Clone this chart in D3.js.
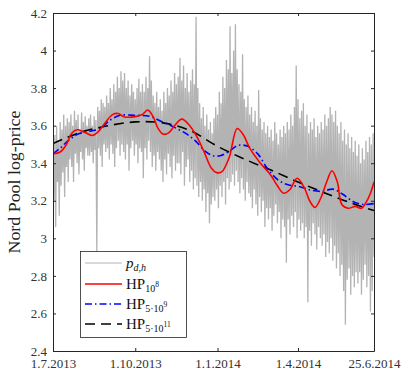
<!DOCTYPE html>
<html>
<head>
<meta charset="utf-8">
<script src="https://cdn.jsdelivr.net/npm/d3@7"></script>
<style>
body { margin: 0; background: #fff; }
svg { font-family: "Liberation Serif", serif; }
</style>
</head>
<body>
<script>
var width = 402,
    height = 370;

// 2-day blocks: upper and lower edge of the hourly prices
var priceHi = [
  3.58, 3.55, 3.60, 3.52, 3.62, 3.58, 3.66, 3.60, 3.64, 3.62,
  3.66, 3.60, 3.68, 3.63, 3.66, 3.58, 3.67, 3.62, 3.65, 3.60,
  3.64, 3.66, 3.60, 3.65, 3.63, 3.70, 3.68, 3.74, 3.72, 3.70,
  3.76, 3.72, 3.80, 3.74, 3.82, 3.78, 3.86, 3.80, 3.89, 3.84,
  3.88, 3.80, 3.84, 3.76, 3.82, 3.78, 3.74, 3.80, 3.85, 3.78,
  3.82, 3.78, 3.86, 3.80, 3.97, 3.84, 3.76, 3.72, 3.78, 3.70,
  3.74, 3.68, 3.78, 3.72, 3.80, 3.76, 3.84, 3.78, 3.88, 3.82,
  3.86, 3.96, 3.84, 3.92, 3.80, 3.88, 3.78, 3.84, 3.90, 3.82,
  4.18, 3.80, 3.72, 3.64, 3.70, 3.60, 3.66, 3.58, 3.62, 3.56,
  3.64, 3.70, 3.66, 3.78, 3.72, 3.86, 3.80, 3.95, 3.90, 4.13,
  3.88, 4.00, 4.14, 3.90, 3.82, 3.78, 3.98, 3.74, 3.70, 3.76,
  3.66, 3.70, 3.62, 3.68, 3.60, 3.79, 3.64, 3.58, 3.62, 3.56,
  3.60, 3.54, 3.58, 3.52, 3.62, 3.56, 3.50, 3.58, 3.54, 3.60,
  3.56, 3.62, 3.58, 3.66, 3.60, 3.70, 3.92, 3.74, 3.64, 3.68,
  3.72, 3.60, 3.66, 3.56, 3.62, 3.58, 3.64, 3.54, 3.60, 3.56,
  3.62, 3.58, 3.66, 3.60, 3.64, 3.70, 3.66, 3.62, 3.68, 3.60,
  3.56, 3.62, 3.52, 3.58, 3.50, 3.56, 3.48, 3.54, 3.46, 3.52,
  3.44, 3.50, 3.40, 3.48, 3.42, 3.52, 3.46, 3.54, 3.50, 3.56
];
var priceLo = [
  3.20, 3.06, 3.30, 3.12, 3.28, 3.35, 3.22, 3.38, 3.30, 3.42,
  3.38, 3.30, 3.45, 3.40, 3.34, 3.46, 3.42, 3.36, 3.48, 3.44,
  3.44, 3.46, 3.40, 3.47, 2.93, 3.48, 3.44, 3.38, 3.50, 3.46,
  3.48, 3.42, 3.50, 3.45, 3.38, 3.48, 3.52, 3.44, 3.50, 3.46,
  3.42, 3.50, 3.36, 3.48, 3.52, 3.44, 3.50, 3.40, 3.48, 3.46,
  3.32, 3.48, 3.42, 3.52, 3.46, 3.38, 3.44, 3.36, 3.46, 3.42,
  3.36, 3.30, 3.42, 3.34, 3.45, 3.38, 3.32, 3.44, 3.36, 3.40,
  3.40, 3.34, 3.46, 3.28, 3.38, 3.42, 3.30, 3.36, 3.26, 3.32,
  3.28, 3.22, 3.30, 3.20, 3.26, 3.14, 3.24, 3.08, 3.18, 3.22,
  3.20, 3.26, 3.16, 3.28, 3.22, 3.30, 3.18, 3.32, 3.26, 3.30,
  3.34, 3.28, 3.36, 3.30, 3.24, 3.32, 3.26, 3.20, 3.30, 3.24,
  3.22, 3.16, 3.26, 3.18, 3.12, 3.22, 3.14, 3.20, 3.06, 3.16,
  3.10, 3.16, 3.04, 3.12, 3.18, 3.08, 3.14, 3.00, 3.10, 3.06,
  2.87, 3.10, 3.02, 3.12, 3.06, 3.14, 3.00, 3.10, 3.04, 3.08,
  3.00, 3.06, 2.66, 3.04, 2.96, 3.08, 3.02, 2.94, 3.06, 3.00,
  2.96, 3.02, 2.90, 2.98, 2.92, 3.00, 2.88, 2.96, 2.84, 2.92,
  2.80, 2.86, 2.72, 2.54, 2.78, 2.84, 2.70, 2.80, 2.74, 2.82,
  2.76, 2.82, 2.70, 2.78, 2.86, 2.74, 2.80, 2.61, 2.72, 2.90
];

// HP trends, day = days since 1.7.2013
var hp8Day = [0, 8, 15, 21, 27, 34, 44, 51, 59, 67, 73, 79, 92, 100, 106, 112, 117, 123, 129, 136,
  144, 153, 161, 169, 177, 183, 189, 197, 206, 213, 220, 232, 243, 251, 258, 265, 273, 281, 287, 293,
  300, 306, 312, 318, 323, 330, 338, 345, 350, 355, 359];
var hp8 = [3.45, 3.46, 3.50, 3.56, 3.578, 3.568, 3.548, 3.57, 3.62, 3.66, 3.665, 3.648, 3.648, 3.66, 3.683, 3.648, 3.59, 3.555, 3.56, 3.60,
  3.635, 3.60, 3.54, 3.46, 3.375, 3.35, 3.355, 3.43, 3.585, 3.55, 3.48, 3.40, 3.34, 3.28, 3.24, 3.26, 3.32, 3.27, 3.20, 3.165,
  3.22, 3.30, 3.36, 3.30, 3.18, 3.16, 3.17, 3.16, 3.19, 3.24, 3.30];

var hp9Day = [0, 8, 17, 28, 41, 53, 64, 75, 92, 108, 120, 134, 148, 159, 170, 179, 187, 196, 207, 218,
  229, 240, 252, 263, 276, 290, 301, 313, 324, 336, 347, 359];
var hp9 = [3.45, 3.48, 3.52, 3.555, 3.57, 3.585, 3.63, 3.655, 3.655, 3.65, 3.625, 3.595, 3.56, 3.52, 3.465, 3.44, 3.44, 3.46, 3.495, 3.49,
  3.45, 3.37, 3.31, 3.285, 3.275, 3.255, 3.25, 3.262, 3.235, 3.195, 3.18, 3.185];

var hp11Day = [0, 31, 62, 92, 123, 153, 184, 215, 243, 274, 304, 335, 359];
var hp11 = [3.505, 3.565, 3.60, 3.62, 3.615, 3.575, 3.49, 3.42, 3.365, 3.30, 3.242, 3.185, 3.148];

var xTickLabels = ["1.7.2013", "1.10.2013", "1.1.2014", "1.4.2014", "25.6.2014"];
var yTicks = [2.4, 2.6, 2.8, 3, 3.2, 3.4, 3.6, 3.8, 4, 4.2];

var startDate = new Date(2013, 6, 1),
    endDate = new Date(2014, 5, 25);
var parseTick = d3.timeParse("%d.%m.%Y");
var dayToDate = function(d) { return d3.timeDay.offset(startDate, d); };

var plotL = 53, plotR = 374, plotT = 13, plotB = 351;
var serif = "Liberation Serif";

var x = d3.scaleTime().domain([startDate, endDate]).range([plotL, plotR]);
var y = d3.scaleLinear().domain([2.4, 4.2]).range([plotB, plotT]);

var svg = d3.select("body").append("svg")
    .attr("width", width)
    .attr("height", height);

svg.append("defs").append("clipPath").attr("id", "plotclip")
  .append("rect").attr("x", plotL).attr("y", plotT).attr("width", plotR - plotL).attr("height", plotB - plotT);

var plot = svg.append("g").attr("clip-path", "url(#plotclip)");

// hourly price band as one zigzag line
var pricePts = [];
priceHi.forEach(function(v, i) {
    pricePts.push([2 * i, v]);
    pricePts.push([2 * i + 1, priceLo[i]]);
});

var line = d3.line()
    .x(function(d) { return x(dayToDate(d[0])); })
    .y(function(d) { return y(d[1]); });

plot.append("path")
    .datum(pricePts)
    .attr("fill", "none")
    .attr("stroke", "#b3b3b3")
    .attr("stroke-width", 1.3)
    .attr("stroke-linejoin", "bevel")
    .attr("d", line);

var smooth = d3.line()
    .curve(d3.curveCatmullRom.alpha(0.5))
    .x(function(d) { return x(dayToDate(d[0])); })
    .y(function(d) { return y(d[1]); });

var trends = [
    {days: hp11Day, vals: hp11, color: "#000", dash: "10,6", w: 1.6},
    {days: hp9Day, vals: hp9, color: "#0000ff", dash: "7,3,1.5,3", w: 1.6},
    {days: hp8Day, vals: hp8, color: "#ff0000", dash: null, w: 1.6}
];
trends.forEach(function(t) {
    plot.append("path")
        .datum(t.days.map(function(d, i) { return [d, t.vals[i]]; }))
        .attr("fill", "none")
        .attr("stroke", t.color)
        .attr("stroke-width", t.w)
        .attr("stroke-dasharray", t.dash)
        .attr("d", smooth);
});

// axes, ticks inside on all four sides
var xTickDates = xTickLabels.map(parseTick);
var axisColor = "#262626";

function styleAxis(g) {
    g.attr("font-family", serif).attr("font-size", 13);
    g.select(".domain").attr("stroke", axisColor);
    g.selectAll(".tick line").attr("stroke", axisColor);
    g.selectAll(".tick text").attr("fill", "#333");
}

svg.append("g")
    .attr("transform", "translate(" + plotL + ",0)")
    .call(d3.axisLeft(y).tickValues(yTicks).tickSizeInner(-3).tickSizeOuter(0).tickPadding(6)
        .tickFormat(function(d) { return String(d); }))
    .call(styleAxis);

svg.append("g")
    .attr("transform", "translate(" + plotR + ",0)")
    .call(d3.axisRight(y).tickValues(yTicks).tickSizeInner(-3).tickSizeOuter(0).tickFormat(""))
    .call(styleAxis);

svg.append("g")
    .attr("transform", "translate(0," + plotB + ")")
    .call(d3.axisBottom(x).tickValues(xTickDates).tickSizeInner(-3).tickSizeOuter(0).tickPadding(8)
        .tickFormat(function(d, i) { return xTickLabels[i]; }))
    .call(styleAxis);

svg.append("g")
    .attr("transform", "translate(0," + plotT + ")")
    .call(d3.axisTop(x).tickValues(xTickDates).tickSizeInner(-3).tickSizeOuter(0).tickFormat(""))
    .call(styleAxis);

svg.append("text")
    .attr("transform", "translate(20," + ((plotT + plotB) / 2) + ") rotate(-90)")
    .attr("text-anchor", "middle")
    .attr("fill", "#222")
    .attr("font-family", serif)
    .attr("font-size", 16)
    .attr("textLength", 143)
    .attr("lengthAdjust", "spacingAndGlyphs")
    .text("Nord Pool log-price");

// legend
var legendRows = [
    {base: "p", sub: "d,h", sup: "", italic: true, color: "#b3b3b3", dash: null, w: 1},
    {base: "HP", sub: "10", sup: "8", italic: false, color: "#ff0000", dash: null, w: 1.6},
    {base: "HP", sub: "5\u00b710", sup: "9", italic: false, color: "#0000ff", dash: "7,3,1.5,3", w: 1.6},
    {base: "HP", sub: "5\u00b710", sup: "11", italic: false, color: "#000", dash: "10,6", w: 1.6}
];
var legendY = [263, 284, 304, 324];

var legend = svg.append("g").attr("font-family", serif);
legend.append("rect")
    .attr("x", 80.5).attr("y", 251.5)
    .attr("width", 106).attr("height", 86)
    .attr("fill", "#fff")
    .attr("stroke", axisColor)
    .attr("stroke-width", 0.8);

legendRows.forEach(function(r, i) {
    var ly = legendY[i];
    legend.append("line")
        .attr("x1", 85).attr("x2", 122)
        .attr("y1", ly).attr("y2", ly)
        .attr("stroke", r.color)
        .attr("stroke-width", r.w)
        .attr("stroke-dasharray", r.dash);
    var t = legend.append("text")
        .attr("x", 126).attr("y", ly + 4.5)
        .attr("fill", "#111")
        .attr("font-size", 15);
    t.append("tspan").style("font-style", r.italic ? "italic" : "normal").text(r.base);
    t.append("tspan").attr("dy", r.italic ? 3 : 3.5)
        .attr("font-size", 10)
        .style("font-style", r.italic ? "italic" : "normal")
        .text(r.sub);
    if (r.sup) {
        t.append("tspan").attr("dy", -5).attr("font-size", 7.5).text(r.sup);
    }
});
</script>
</body>
</html>
